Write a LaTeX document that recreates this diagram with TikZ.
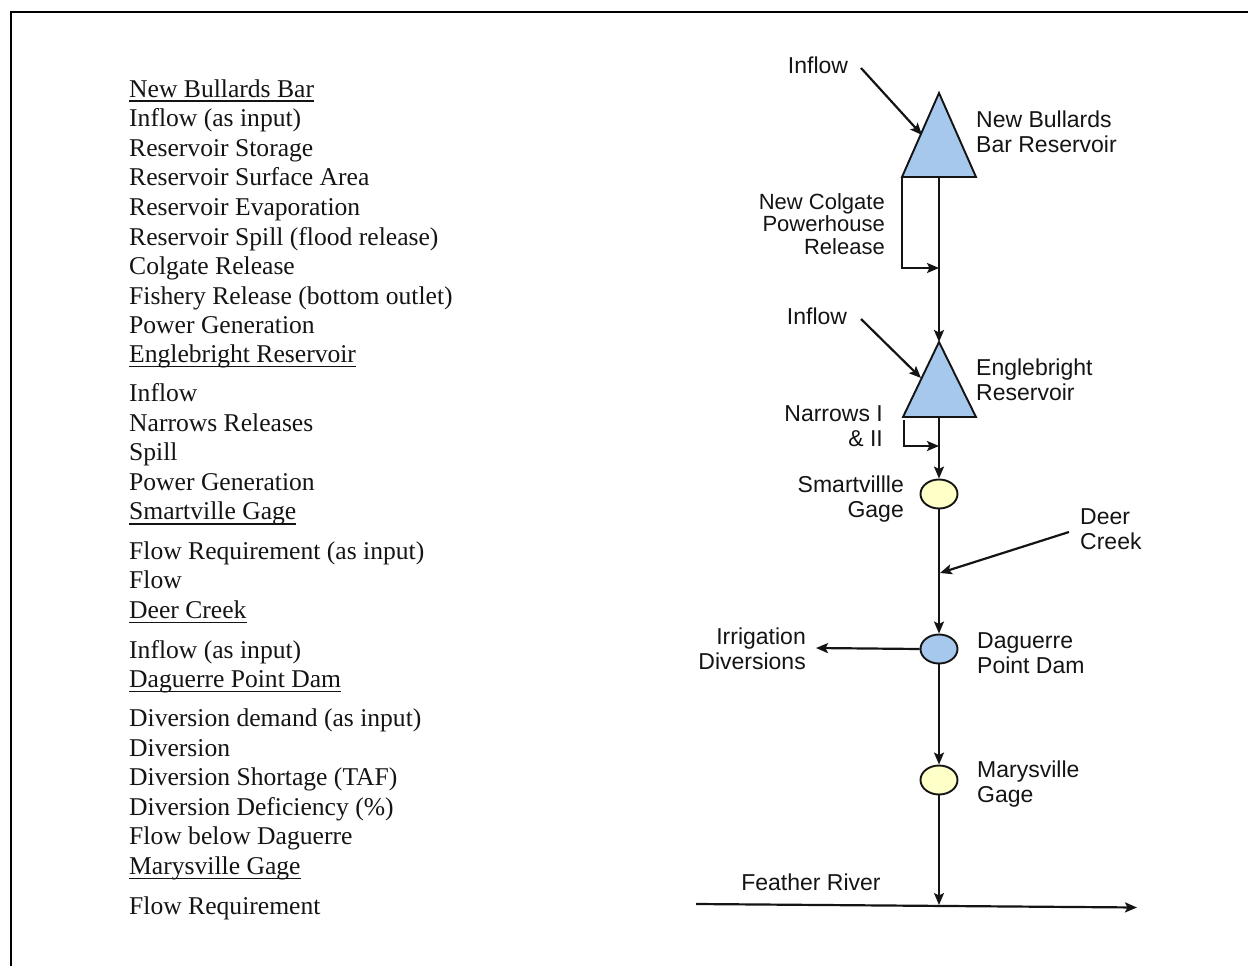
\documentclass[tikz,border=0pt]{standalone}
\usepackage{fontspec}
\usetikzlibrary{arrows.meta,shapes.geometric}
\newfontfamily\rfont{Liberation Sans}
\newfontfamily\lfont{Liberation Serif}
\definecolor{resblue}{HTML}{A6C8EC}
\definecolor{gageyel}{HTML}{FFFFC8}
\definecolor{ink}{HTML}{141414}
\tikzset{
  lt/.style={anchor=base west, inner sep=0pt, text=ink, font=\lfont\fontsize{25.6}{29.6}\selectfont},
  ul/.style={line width=1.4pt, draw=ink},
  rl/.style={inner sep=0pt, text=ink, font=\rfont\fontsize{23}{25}\selectfont},
  rlL/.style={rl, align=left, anchor=west},
  rlR/.style={rl, align=right, anchor=east},
  flow/.style={draw=ink, line width=2.2pt, -{Stealth[length=12pt,width=10pt,inset=2.5pt]}},
  gage/.style={ellipse, draw=ink, line width=1.9pt, minimum width=37pt, minimum height=29pt, inner sep=0pt},
  res/.style={fill=resblue, draw=ink, line width=1.9pt, line join=miter},
}
\begin{document}
\begin{tikzpicture}[x=1pt,y=-1pt]
\useasboundingbox (0,0) rectangle (1248,966);
% frame
\coordinate (fbl) at (11,966);
\coordinate (ftl) at (11,12);
\coordinate (ftr) at (1248,12);
\draw[line width=1.8pt] (fbl) -- (ftl) -- (ftr);

% ---------- left text ----------
\node[lt] (h1) at (129,97) {New Bullards Bar};
\node[lt] (a1) at (129,126.6) {Inflow (as input)};
\node[lt] (a2) at (129,156.2) {Reservoir Storage};
\node[lt] (a3) at (129,185.8) {Reservoir Surface Area};
\node[lt] (a4) at (129,215.4) {Reservoir Evaporation};
\node[lt] (a5) at (129,245) {Reservoir Spill (flood release)};
\node[lt] (a6) at (129,274.6) {Colgate Release};
\node[lt] (a7) at (129,304.2) {Fishery Release (bottom outlet)};
\node[lt] (a8) at (129,333.8) {Power Generation};
\node[lt] (h2) at (129,362.5) {Englebright Reservoir};
\node[lt] (b1) at (129,401.5) {Inflow};
\node[lt] (b2) at (129,431) {Narrows Releases};
\node[lt] (b3) at (129,460.6) {Spill};
\node[lt] (b4) at (129,490.2) {Power Generation};
\node[lt] (h3) at (129,519.8) {Smartville Gage};
\node[lt] (c1) at (129,559) {Flow Requirement (as input)};
\node[lt] (c2) at (129,588.6) {Flow};
\node[lt] (h4) at (129,618.2) {Deer Creek};
\node[lt] (d1) at (129,658) {Inflow (as input)};
\node[lt] (h5) at (129,687.6) {Daguerre Point Dam};
\node[lt] (e1) at (129,726.5) {Diversion demand (as input)};
\node[lt] (e2) at (129,756.1) {Diversion};
\node[lt] (e3) at (129,785.7) {Diversion Shortage (TAF)};
\node[lt] (e4) at (129,815.3) {Diversion Deficiency (\%)};
\node[lt] (e5) at (129,844.9) {Flow below Daguerre};
\node[lt] (h6) at (129,874.5) {Marysville Gage};
\node[lt] (f1) at (129,914) {Flow Requirement};
\foreach \h in {h1,h2,h3,h4,h5,h6}{
  \draw[ul] ([yshift=-4pt]\h.base west) -- ([yshift=-4pt]\h.base east);
}

% ---------- schematic ----------
% New Bullards Bar reservoir
\coordinate (t1a) at (939,93);
\coordinate (t1l) at (902,177);
\coordinate (t1r) at (976,177);
\coordinate (t1b) at (939,177);
\draw[res] (t1a) -- (t1r) -- (t1l) -- cycle;
% Englebright reservoir
\coordinate (t2a) at (939,342);
\coordinate (t2l) at (903,417);
\coordinate (t2r) at (976,417);
\coordinate (t2b) at (939,417);
\draw[res] (t2a) -- (t2r) -- (t2l) -- cycle;
% gages / dam
\node[gage, fill=gageyel] (sg) at (939,494) {};
\node[gage, fill=resblue] (dp) at (939,649) {};
\node[gage, fill=gageyel] (mg) at (939,780) {};

% inflows
\coordinate (in1s) at (861,68);  \coordinate (in1e) at (922,135);
\coordinate (in2s) at (861,319); \coordinate (in2e) at (921,378);
\draw[flow] (in1s) -- (in1e);
\draw[flow] (in2s) -- (in2e);
% main stem
\draw[flow] (t1b) -- (t2a);
\coordinate (cgl) at (902,268); \coordinate (cge) at (939,268);
\draw[flow] (t1l) -- (cgl) -- (cge);
\draw[flow] (t2b) -- (sg.north);
\coordinate (nrs) at (904,420); \coordinate (nrl) at (904,446); \coordinate (nre) at (939,446);
\draw[flow] (nrs) -- (nrl) -- (nre);
\draw[flow] (sg.south) -- (dp.north);
\coordinate (dcs) at (1069,532); \coordinate (dce) at (940,573);
\draw[flow] (dcs) -- (dce);
\coordinate (ird) at (816,648);
\draw[flow] (dp.west) -- (ird);
\draw[flow] (dp.south) -- (mg.north);
\coordinate (fr) at (939,905);
\draw[flow] (mg.south) -- (fr);
\coordinate (frs) at (696,904); \coordinate (fre) at (1137,907.5);
\draw[flow] (frs) -- (fre);

% labels
\node[rl] (linf1) at (818,65) {Inflow};
\node[rl] (linf2) at (817,316) {Inflow};
\node[rlL] (lnbb) at (976,131.5) {New Bullards\\Bar Reservoir};
\node[rlR, font=\rfont\fontsize{22}{22.5}\selectfont] (lcg) at (885,224) {New Colgate\\Powerhouse\\Release};
\node[rlL] (leng) at (976,379.5) {Englebright\\Reservoir};
\node[rlR] (lnar) at (883,426) {Narrows I\\\& II};
\node[rlR] (lsg) at (904,499.5) {Smartvillle\\Gage};
\node[rlL] (ldc) at (1080,529.5) {Deer\\Creek};
\node[rlR] (lir) at (806,649) {Irrigation\\Diversions};
\node[rlL] (ldp) at (977,653) {Daguerre\\Point Dam};
\node[rlL] (lmg) at (977,784.5) {Marysville\\Gage};
\node[rl] (lfr) at (811,882) {Feather River};
\end{tikzpicture}
\end{document}
